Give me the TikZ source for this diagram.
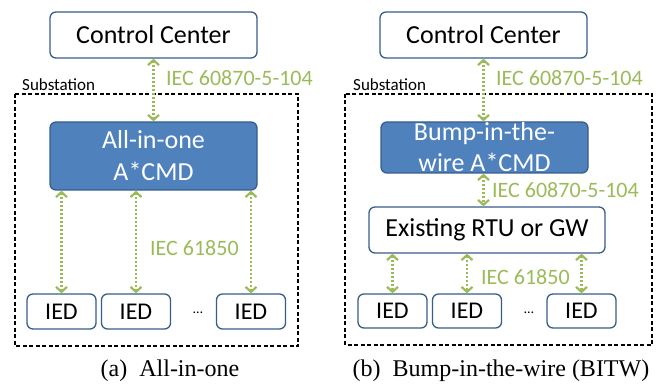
\documentclass[tikz,border=0pt]{standalone}
\usepackage{fontspec}
\setmainfont{Liberation Serif}
\newfontfamily\calibri{Carlito}
\usetikzlibrary{arrows.meta, positioning}
\definecolor{linkgreen}{RGB}{155,187,89}
\definecolor{cmdblue}{RGB}{79,129,189}
\definecolor{edgeblue}{RGB}{56,93,138}

\tikzset{
    whitebox/.style={draw=edgeblue, line width=1.3pt, fill=white, rounded corners=6pt, inner sep=0pt,
        font=\calibri\fontsize{26}{32}\selectfont},
    bluebox/.style={whitebox, fill=cmdblue, text=white},
    iedbox/.style={whitebox, font=\calibri\fontsize{24}{28}\selectfont},
    link/.style={draw=linkgreen, line width=2.2pt, dash pattern=on 2.2pt off 1.8pt,
        {Straight Barb[length=5pt,width=11pt]}-{Straight Barb[length=5pt,width=11pt]}},
    proto/.style={font=\calibri\fontsize{22}{26}\selectfont, text=linkgreen, anchor=west, inner sep=0pt},
    zone/.style={draw, line width=1.3pt, dash pattern=on 4pt off 2.5pt},
    zonelabel/.style={font=\calibri\fontsize{17}{20}\selectfont, anchor=west, inner sep=0pt},
    subcap/.style={font=\fontsize{24}{28}\selectfont}
}

\begin{document}
\begin{tikzpicture}[x=1pt, y=-1pt]
    \useasboundingbox (0,0) rectangle (657,385);

    % (a) All-in-one
    \node[whitebox, minimum width=207, minimum height=46] (ccA) at (153.5,35) {Control Center};
    \node[zonelabel] (subA) at (22,85) {Substation};
    \draw[zone] (15,94) rectangle (298,346);
    \node[bluebox, minimum width=207, minimum height=68, align=center] (aio) at (153.5,156) {All-in-one\\A*CMD};
    \draw[link] (ccA.south) -- (aio.north);
    \node[proto] (upA) at (166,78) {IEC 60870-5-104};

    \foreach \n/\x in {1/61.5, 2/136, 3/251} {
        \node[iedbox, minimum width=69, minimum height=35] (iedA\n) at (\x,311.5) {IED};
        \draw[link] (iedA\n.north |- aio.south) -- (iedA\n.north);
    }
    \node[font=\calibri\fontsize{14}{16}\selectfont] (dotsA) at (198,313) {…};
    \node[proto] (lowA) at (150,248) {IEC 61850};
    \node[subcap] (capA) at (170,371) {(a)\enspace All-in-one};

    % (b) Bump-in-the-wire
    \node[whitebox, minimum width=207, minimum height=46] (ccB) at (483.5,35) {Control Center};
    \node[zonelabel] (subB) at (353,85) {Substation};
    \draw[zone] (345,94) rectangle (652,345);
    \node[bluebox, minimum width=207, minimum height=51] (bitw) at (484.5,147.5) {};
    \node[font=\calibri\fontsize{26}{31}\selectfont, text=white, align=center, inner sep=0pt] (bitwtext) at (bitw.center) {Bump-in-the-\\wire A*CMD};
    \draw[link] (ccB.south) -- (ccB.south |- bitw.north);
    \node[proto] (upB) at (496,78) {IEC 60870-5-104};

    \node[whitebox, minimum width=236, minimum height=46] (rtu) at (487,230) {Existing RTU or GW};
    \draw[link] (ccB.south |- bitw.south) -- (ccB.south |- rtu.north);
    \node[proto] (midB) at (492,190) {IEC 60870-5-104};

    \foreach \n/\x in {1/392.5, 2/467, 3/581.5} {
        \node[iedbox, minimum width=69, minimum height=34] (iedB\n) at (\x,311) {IED};
        \draw[link] (iedB\n.north |- rtu.south) -- (iedB\n.north);
    }
    \node[font=\calibri\fontsize{14}{16}\selectfont] (dotsB) at (529,313) {…};
    \node[proto] (lowB) at (481,277) {IEC 61850};
    \node[subcap] (capB) at (501,371) {(b)\enspace Bump-in-the-wire (BITW)};
\end{tikzpicture}
\end{document}
